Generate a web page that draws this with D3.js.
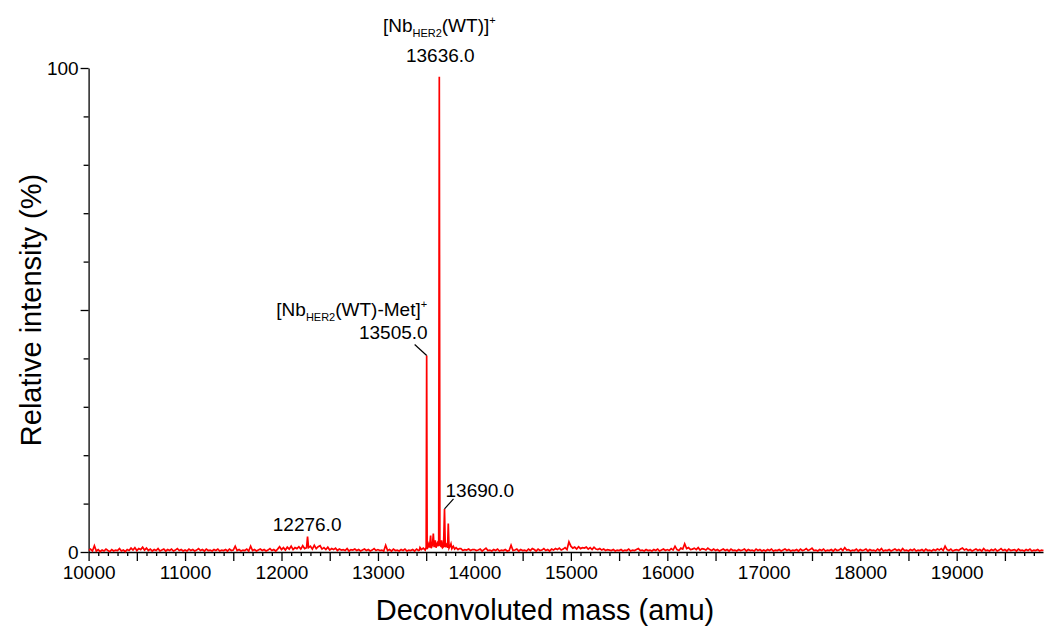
<!DOCTYPE html>
<html>
<head>
<meta charset="utf-8">
<script src="https://cdn.jsdelivr.net/npm/d3@7"></script>
<style>
  html, body { margin: 0; padding: 0; background: #ffffff; }
  svg { display: block; }
  text { font-family: "Liberation Sans", Arial, sans-serif; fill: #000; }
</style>
</head>
<body>
<svg id="chart" width="1044" height="627"></svg>
<script>
// ---------- data ----------
const xDomain = [10000, 19895];          // deconvoluted mass (amu)
const yDomain = [0, 100];                 // relative intensity (%)
const xMajorTicks = [10000, 11000, 12000, 13000, 14000, 15000, 16000, 17000, 18000, 19000];
const xTickLabels = ["10000", "11000", "12000", "13000", "14000", "15000", "16000", "17000", "18000", "19000"];
const xMediumTicks = [10500, 11500, 12500, 13500, 14500, 15500, 16500, 17500, 18500, 19500];
const yMajorTicks = [0, 50, 100];
const yTickLabels = ["0", "", "100"];
const yMinorTicks = [10, 20, 30, 40, 60, 70, 80, 90];

// baseline noise: mass grid starting at 10000 amu, one reading every 20 amu (relative intensity, %)
const baselineStartMass = 10000;
const baselineMassStep = 20;
const baselineIntensity = [
  // 10000-10980
  0.3,0.6,0.2,1.3,0.2,0.5,0.1,0.4,0.2,0.6, 0.3,0.1,0.5,0.2,0.4,0.3,0.7,0.2,0.4,0.1,
  0.5,0.3,0.8,0.4,0.9,0.3,0.7,0.5,1.0,0.4, 0.8,0.3,0.6,0.2,0.5,0.3,0.7,0.2,0.4,0.6,
  0.2,0.5,0.3,0.6,0.2,0.4,0.7,0.3,0.5,0.2,
  // 11000-11980
  0.4,0.2,0.6,0.3,0.5,0.2,0.4,0.7,0.3,0.5, 0.2,0.6,0.3,0.4,0.2,0.5,0.3,0.6,0.2,0.4,
  0.3,0.5,0.2,0.6,0.3,0.4,1.2,0.3,0.5,0.2, 0.4,0.3,0.6,0.2,1.2,0.3,0.5,0.2,0.4,0.6,
  0.3,0.5,0.2,0.4,0.7,0.3,0.5,0.2,0.6,1.1,
  // 12000-12980
  0.5,0.9,0.4,1.0,0.6,1.2,0.5,0.9,0.7,1.1, 0.6,1.3,0.7,0.9,0.9,1.2,0.6,1.4,0.7,1.1,
  1.3,0.6,0.9,0.5,1.0,0.4,0.7,0.5,0.8,0.3, 0.6,0.4,0.5,0.3,0.7,0.2,0.5,0.4,0.6,0.3,
  0.5,0.2,0.4,0.6,0.3,0.5,0.2,0.4,0.7,0.3,
  // 13000-13980
  0.5,0.3,0.4,0.2,1.4,0.3,0.5,0.2,0.6,0.3, 0.4,0.2,0.5,0.3,0.6,0.2,0.4,0.3,0.5,0.2,
  0.6,0.3,0.4,0.7,0.3,0.5,0.2,0.8,0.4,0.6, 0.3,0.5,0.4,0.6,0.3,0.5,0.4,0.6,0.3,0.5,
  0.4,0.6,0.3,0.7,0.3,0.5,0.4,0.6,0.3,0.5,
  // 14000-14980
  0.5,0.3,0.4,0.6,0.2,0.5,0.8,0.3,0.4,0.2, 0.5,0.3,0.6,0.2,0.4,0.3,0.5,0.2,0.3,1.4,
  0.3,0.4,0.6,0.2,0.5,0.3,0.4,0.2,0.6,0.3, 0.7,0.5,0.2,0.6,0.3,0.4,0.7,0.3,0.5,0.2,
  0.6,0.4,0.7,0.5,0.8,0.4,0.6,0.9,0.5,2.1,
  // 15000-15980
  1.2,0.8,1.0,0.6,1.1,0.7,0.9,0.8,1.0,0.6, 0.9,0.5,1.0,0.6,0.5,0.7,0.4,0.6,0.3,0.5,
  0.4,0.3,0.5,0.2,0.4,0.3,0.5,0.2,0.4,0.3, 0.6,0.2,0.4,0.3,0.5,0.7,0.3,0.4,0.2,0.5,
  0.3,0.4,0.2,0.5,0.3,0.6,0.2,0.4,0.6,0.3,
  // 16000-16980
  0.5,0.3,0.7,0.4,1.2,0.5,0.3,0.8,0.6,1.7, 0.7,0.9,0.5,0.6,0.8,0.5,0.9,0.4,0.7,0.6,
  0.4,0.8,0.5,0.3,0.6,0.3,0.5,0.2,0.4,0.6, 0.3,0.5,0.2,0.6,0.3,0.4,0.2,0.5,0.3,0.4,
  0.6,0.2,0.5,0.3,0.4,0.2,0.6,0.3,0.5,0.2,
  // 17000-17980
  0.4,0.2,0.5,0.3,0.6,0.2,0.4,0.3,0.5,0.2, 0.4,0.6,0.3,0.5,0.2,0.4,0.3,0.5,0.2,0.6,
  0.3,0.4,0.7,0.3,0.5,0.8,0.3,0.4,0.2,0.5, 0.3,0.6,0.2,0.4,0.3,0.5,0.2,0.6,0.3,0.4,
  0.7,0.3,0.9,0.4,0.5,0.2,0.4,0.3,0.6,0.2,
  // 18000-18980
  0.5,0.3,0.4,0.6,0.2,0.5,0.3,0.4,0.2,0.6, 0.3,0.7,0.2,0.4,0.3,0.5,0.2,0.4,0.6,0.3,
  0.5,0.2,0.7,0.3,0.4,0.2,0.5,0.3,0.6,0.2, 0.4,0.3,0.5,0.2,0.6,0.3,0.4,0.2,0.5,0.3,
  0.6,0.4,0.7,0.3,1.2,0.5,0.3,0.6,0.2,0.4,
  // 19000-19900
  0.5,0.3,0.6,0.8,0.4,0.6,0.3,0.5,0.2,0.4, 0.6,0.3,0.5,0.2,0.7,0.3,0.4,0.2,0.5,0.3,
  0.6,0.2,0.4,0.7,0.3,0.5,0.2,0.6,0.3,0.4, 0.5,0.2,0.6,0.3,0.4,0.2,0.5,0.3,0.6,0.2,
  0.4,0.3,0.5,0.2,0.4,0.3
];

// protein peak cluster, read point by point: [mass (amu), relative intensity (%)]
const clusterRange = [13425, 13845];
const clusterPoints = [
  [13430,0.4],[13436,0.9],[13450,0.5],[13470,0.8],[13490,0.4],[13500,1.0],[13505,40.6],[13510,0.6],
  [13520,1.2],[13526,1.6],[13535,0.9],[13546,3.4],[13552,0.8],[13565,1.5],[13574,3.8],[13582,1.0],
  [13594,2.4],[13602,0.9],[13615,1.8],[13625,1.2],[13630,2.5],[13636,98.2],[13642,1.4],[13652,1.2],
  [13660,2.4],[13670,0.9],[13680,1.1],[13690,8.9],[13698,1.0],[13710,1.5],[13722,0.9],[13729,5.9],
  [13737,0.8],[13748,1.2],[13757,1.7],[13766,0.7],[13781,1.2],[13795,0.6],[13810,0.9],[13830,0.5],
  [13845,0.7]
];
// minor isolated peak
const minorPeakPoints = [[12270, 3.2]];

// labelled peaks
const peakMasses = [13636, 13505, 13690, 12276];
const peakMassLabels = ["13636.0", "13505.0", "13690.0", "12276.0"];
const peakIntensities = [98.2, 40.6, 8.9, 3.2];

// ---------- assemble spectrum ----------
const baselinePoints = baselineIntensity.map((v, i) => [baselineStartMass + i * baselineMassStep, v])
  .filter(d => d[0] < clusterRange[0] || d[0] > clusterRange[1]);
const spectrumPoints = baselinePoints.concat(clusterPoints, minorPeakPoints)
  .sort((a, b) => a[0] - b[0]);

// ---------- drawing ----------
const svg = d3.select("#chart");
const W = 1044, H = 627;
svg.append("rect").attr("width", W).attr("height", H).attr("fill", "#fff");

const x = d3.scaleLinear().domain(xDomain).range([88.6, 1043]);
const y = d3.scaleLinear().domain(yDomain).range([552, 68]);

const fontTick = 19;

svg.append("defs").append("clipPath").attr("id", "plotClip")
  .append("rect").attr("x", x(xDomain[0])).attr("y", 0)
  .attr("width", x(xDomain[1]) - x(xDomain[0]) + 1).attr("height", y(0) + 2);

// X axis: minor ticks every 100
const xMinor = d3.range(10100, 19900, 100).filter(v => v % 500 !== 0);
const gx = svg.append("g").attr("transform", `translate(0,${y(0)})`);
gx.append("g").call(d3.axisBottom(x).tickValues(xMinor).tickSize(4).tickSizeOuter(0).tickFormat(""))
  .call(g => g.select(".domain").remove());
gx.append("g").call(d3.axisBottom(x).tickValues(xMediumTicks).tickSize(9).tickSizeOuter(0).tickFormat(""))
  .call(g => g.select(".domain").remove());
gx.append("g").call(d3.axisBottom(x).tickValues(xMajorTicks).tickSize(9).tickSizeOuter(0)
      .tickFormat((d, i) => xTickLabels[i]).tickPadding(5))
  .call(g => g.selectAll("text").attr("font-size", fontTick).attr("font-family", "Liberation Sans, Arial, sans-serif"));
gx.selectAll("line").attr("stroke", "#000").attr("stroke-width", 1.3);
gx.selectAll(".domain").attr("stroke", "#000").attr("stroke-width", 1.3);

// Y axis
const gy = svg.append("g").attr("transform", `translate(${x(10000)},0)`);
gy.append("g").call(d3.axisLeft(y).tickValues(yMinorTicks).tickSize(5).tickSizeOuter(0).tickFormat(""))
  .call(g => g.select(".domain").remove());
gy.append("g").call(d3.axisLeft(y).tickValues(yMajorTicks).tickSize(8).tickSizeOuter(0)
      .tickFormat((d, i) => yTickLabels[i]).tickPadding(2))
  .call(g => g.selectAll("text").attr("font-size", fontTick).attr("font-family", "Liberation Sans, Arial, sans-serif"));
gy.selectAll("line").attr("stroke", "#000").attr("stroke-width", 1.3);
gy.selectAll(".domain").attr("stroke", "#000").attr("stroke-width", 1.3);

// Spectrum line
const line = d3.line().x(d => x(d[0])).y(d => y(d[1]));
svg.append("path")
  .datum(spectrumPoints)
  .attr("clip-path", "url(#plotClip)")
  .attr("d", line)
  .attr("fill", "none")
  .attr("stroke", "#ff0000")
  .attr("stroke-width", 1.7)
  .attr("stroke-linejoin", "miter");

// Axis titles
svg.append("text")
  .attr("x", 545).attr("y", 620)
  .attr("text-anchor", "middle").attr("font-size", 29)
  .text("Deconvoluted mass (amu)");
svg.append("text")
  .attr("transform", `translate(41,${310}) rotate(-90)`)
  .attr("text-anchor", "middle").attr("font-size", 29)
  .text("Relative intensity (%)");

// Annotations
function speciesLabel(xPos, yPos, anchor, afterSub) {
  const t = svg.append("text").attr("x", xPos).attr("y", yPos)
    .attr("text-anchor", anchor).attr("font-size", fontTick);
  t.append("tspan").text("[Nb");
  t.append("tspan").attr("font-size", 11).attr("dy", 5).text("HER2");
  t.append("tspan").attr("dy", -5).text(afterSub);
  t.append("tspan").attr("font-size", 11).attr("dy", -8).text("+");
  return t;
}

// 13636.0 (base peak)
speciesLabel(x(peakMasses[0]), 32, "middle", "(WT)]");
svg.append("text").attr("x", x(peakMasses[0]) + 1).attr("y", 62)
  .attr("text-anchor", "middle").attr("font-size", fontTick).text(peakMassLabels[0]);

// 13505.0 (-Met)
const p1x = x(peakMasses[1]), p1y = y(peakIntensities[1]);
speciesLabel(p1x + 0.5, 316, "end", "(WT)-Met]");
svg.append("text").attr("x", p1x + 1).attr("y", 339)
  .attr("text-anchor", "end").attr("font-size", fontTick).text(peakMassLabels[1]);
svg.append("line").attr("x1", p1x - 12).attr("y1", p1y - 11).attr("x2", p1x).attr("y2", p1y)
  .attr("stroke", "#000").attr("stroke-width", 1.2);

// 13690.0
const p2x = x(peakMasses[2]), p2y = y(peakIntensities[2]);
svg.append("text").attr("x", p2x + 1).attr("y", 497)
  .attr("text-anchor", "start").attr("font-size", fontTick).text(peakMassLabels[2]);
svg.append("line").attr("x1", p2x + 9).attr("y1", p2y - 10).attr("x2", p2x).attr("y2", p2y)
  .attr("stroke", "#000").attr("stroke-width", 1.2);

// 12276.0
svg.append("text").attr("x", x(peakMasses[3]) - 1).attr("y", 531)
  .attr("text-anchor", "middle").attr("font-size", fontTick).text(peakMassLabels[3]);
</script>
</body>
</html>
